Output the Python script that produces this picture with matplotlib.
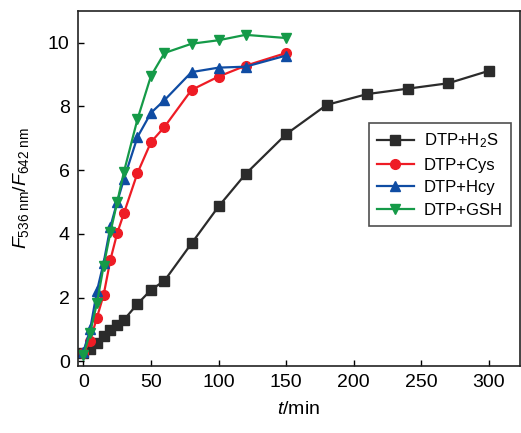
import matplotlib
matplotlib.use("Agg")
import matplotlib.pyplot as plt

plt.rcParams["font.family"] = ["Liberation Sans", "DejaVu Sans"]
plt.rcParams["mathtext.fontset"] = "custom"
plt.rcParams["mathtext.rm"] = "Liberation Sans"
plt.rcParams["mathtext.it"] = "Liberation Sans:italic"

# time points (min)
t_h2s = [0, 5, 10, 15, 20, 25, 30, 40, 50, 60, 80, 100, 120, 150, 180, 210, 240, 270, 300]
t_thiol = [0, 5, 10, 15, 20, 25, 30, 40, 50, 60, 80, 100, 120, 150]

# F536/F642 ratios
h2s = [0.25, 0.38, 0.58, 0.79, 0.99, 1.15, 1.3, 1.8, 2.24, 2.53, 3.7, 4.86, 5.88, 7.13, 8.05, 8.39, 8.56, 8.73, 9.12]
cys = [0.25, 0.65, 1.37, 2.09, 3.19, 4.02, 4.65, 5.91, 6.88, 7.36, 8.52, 8.94, 9.28, 9.68]
hcy = [0.3, 1.0, 2.2, 3.1, 4.23, 5.0, 5.72, 7.04, 7.8, 8.2, 9.08, 9.22, 9.25, 9.6]
gsh = [0.2, 0.9, 1.82, 3.0, 4.05, 5.0, 5.95, 7.6, 8.96, 9.68, 9.97, 10.08, 10.25, 10.15]

labels = [r"DTP+H$_{\rm 2}$S", "DTP+Cys", "DTP+Hcy", "DTP+GSH"]
colors = ["#2b2b2b", "#ee1c25", "#0f4ca3", "#159a48"]
markers = ["s", "o", "^", "v"]

fig = plt.figure(figsize=(5.21, 4.33), dpi=100)
ax = fig.add_axes([0.1497, 0.1547, 0.8483, 0.82])

series = [(t_h2s, h2s), (t_thiol, cys), (t_thiol, hcy), (t_thiol, gsh)]
for (x, y), lab, c, m in zip(series, labels, colors, markers):
    ax.plot(x, y, color=c, marker=m, markersize=7, linewidth=1.6, label=lab)

ax.set_xlim(-4, 323)
ax.set_ylim(-0.15, 11)
ax.set_xticks([0, 50, 100, 150, 200, 250, 300])
ax.set_yticks([0, 2, 4, 6, 8, 10])
ax.tick_params(direction="in", labelsize=14, length=4, width=1, pad=6)
for s in ax.spines.values():
    s.set_linewidth(1.2)
    s.set_color("#222222")

ax.set_xlabel(r"$t$/min", fontsize=14, labelpad=7)
ax.set_ylabel(r"$F_{\rm 536\ nm}/F_{\rm 642\ nm}$", fontsize=14, labelpad=12)

leg = ax.legend(loc="upper right", bbox_to_anchor=(0.98, 0.684), borderaxespad=0,
                fontsize=12, frameon=True, fancybox=False, edgecolor="#222222",
                handlelength=2.2, handletextpad=0.6, borderpad=0.5,
                labelspacing=0.45)
leg.get_frame().set_linewidth(1.2)

fig.savefig("out.png", dpi=100)
